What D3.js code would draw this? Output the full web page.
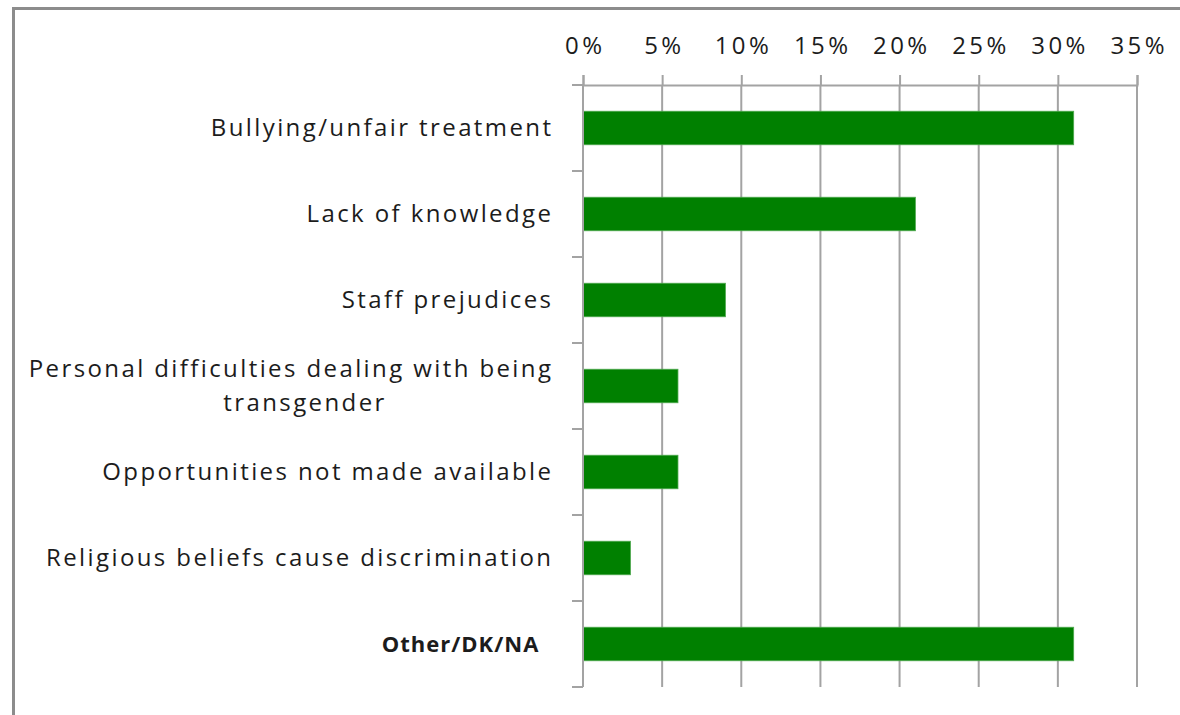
<!DOCTYPE html>
<html>
<head>
<meta charset="utf-8">
<script src="https://cdn.jsdelivr.net/npm/d3@7"></script>
<style>
  html, body { margin: 0; padding: 0; background: #fff; }
  svg { display: block; }
  text { font-family: "Open Sans", Lato, sans-serif; fill: #1c1c1c; }
</style>
</head>
<body>
<svg id="chart" width="1180" height="715"></svg>
<script>
// Reasons reported, share of respondents
const categories = [
  "Bullying/unfair treatment",
  "Lack of knowledge",
  "Staff prejudices",
  "Personal difficulties dealing with being|transgender",
  "Opportunities not made available",
  "Religious beliefs cause discrimination",
  "Other/DK/NA"
];
const values = [0.31, 0.21, 0.09, 0.06, 0.06, 0.03, 0.31];
const tickValues = [0, 0.05, 0.10, 0.15, 0.20, 0.25, 0.30, 0.35];
const boldCategories = ["Other/DK/NA"];

const svg = d3.select("#chart");
const W = 1180, H = 715;
const plot = { left: 583, right: 1137, top: 85, bottom: 687 };
const fontSize = 24, spacing = 2.4;

// outer frame
svg.append("rect")
  .attr("x", 13.5).attr("y", 8.5)
  .attr("width", W + 20).attr("height", H + 20)
  .attr("fill", "#fff")
  .attr("stroke", "#8c8c8c").attr("stroke-width", 3);

const x = d3.scaleLinear().domain([0, 0.35]).range([plot.left, plot.right]);
const y = d3.scaleBand().domain(categories)
  .range([plot.top, plot.bottom])
  .paddingInner(0.61).paddingOuter(0.305);

// vertical gridlines
svg.append("g").selectAll("line")
  .data(tickValues.slice(1))
  .join("line")
  .attr("x1", d => x(d)).attr("x2", d => x(d))
  .attr("y1", plot.top).attr("y2", plot.bottom)
  .attr("stroke", "#a3a3a3").attr("stroke-width", 2);

// top value axis
const xAxis = svg.append("g")
  .attr("transform", `translate(0,${plot.top})`)
  .call(d3.axisTop(x).tickValues(tickValues).tickFormat(d3.format(".0%"))
    .tickSize(10).tickPadding(21));
xAxis.select(".domain").attr("stroke", "#a3a3a3").attr("stroke-width", 2);
xAxis.selectAll(".tick line").attr("stroke", "#a3a3a3").attr("stroke-width", 2);
xAxis.selectAll(".tick text")
  .attr("font-size", fontSize).attr("letter-spacing", 3.4)
  .attr("dx", 1.7)
  .attr("fill", "#1c1c1c").attr("font-family", "'Open Sans', sans-serif");

// bars
svg.append("g").selectAll("rect")
  .data(categories.map((c, i) => ({ c, v: values[i] })))
  .join("rect")
  .attr("x", x(0))
  .attr("y", d => y(d.c))
  .attr("width", d => x(d.v) - x(0))
  .attr("height", y.bandwidth())
  .attr("fill", "#008000")
  .attr("stroke", "#4fa84f").attr("stroke-width", 0.8);

// category axis line and boundary ticks
svg.append("line")
  .attr("x1", plot.left).attr("x2", plot.left)
  .attr("y1", plot.top - 1).attr("y2", plot.bottom)
  .attr("stroke", "#a3a3a3").attr("stroke-width", 2);
const [r0, r1] = y.range();
svg.append("g").selectAll("line")
  .data(d3.range(categories.length + 1))
  .join("line")
  .attr("x1", plot.left - 11).attr("x2", plot.left)
  .attr("y1", i => r0 + i * (r1 - r0) / categories.length)
  .attr("y2", i => r0 + i * (r1 - r0) / categories.length)
  .attr("stroke", "#a3a3a3").attr("stroke-width", 2);

// category labels
const labelRight = 551 + spacing;
const lineGap = 34;
categories.forEach(c => {
  const lines = c.split("|");
  const cy = y(c) + y.bandwidth() / 2;
  const bold = boldCategories.includes(c);
  const g = svg.append("g");
  const first = g.append("text")
    .attr("x", labelRight - (bold ? 14 : 0))
    .attr("y", cy - (lines.length - 1) * lineGap / 2 + 8)
    .attr("text-anchor", "end")
    .attr("font-size", bold ? 22 : fontSize)
    .attr("font-weight", bold ? 700 : 400)
    .attr("letter-spacing", bold ? 1.0 : spacing)
    .text(lines[0]);
  if (lines.length > 1) {
    const w = first.node().getComputedTextLength();
    const mid = labelRight - w / 2 + 14;
    for (let k = 1; k < lines.length; k++) {
      g.append("text")
        .attr("x", mid)
        .attr("y", cy - (lines.length - 1) * lineGap / 2 + 8 + k * lineGap)
        .attr("text-anchor", "middle")
        .attr("font-size", fontSize)
        .attr("letter-spacing", spacing)
        .text(lines[k]);
    }
  }
});
</script>
</body>
</html>
